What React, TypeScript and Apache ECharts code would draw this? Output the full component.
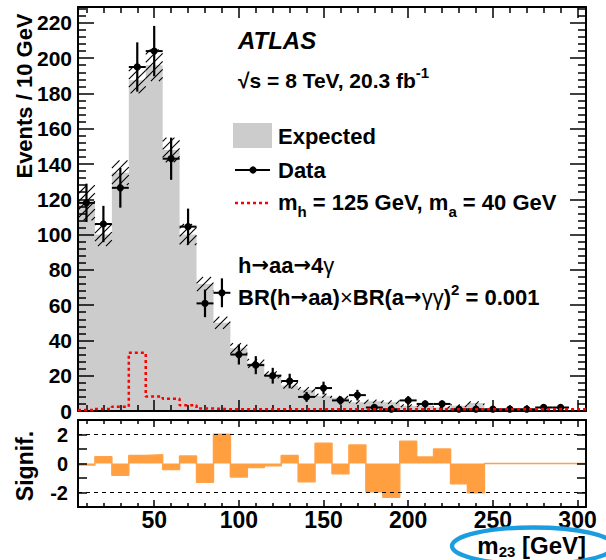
import React, { useEffect, useRef } from 'react';
import * as echarts from 'echarts';

// ---------- data (bin centres, 10 GeV bins) ----------
const binCenters = [10, 20, 30, 40, 50, 60, 70, 80, 90, 100, 110, 120, 130, 140, 150, 160, 170, 180, 190, 200, 210, 220, 230, 240, 250, 260, 270, 280, 290, 300];
const expected = [118, 100, 135, 187.5, 196, 148, 100, 72, 50, 35.5, 27, 20.5, 14.5, 12, 8.7, 7.5, 5, 5.5, 5, 3, 3, 2, 3, 4.5, 0, 0, 0, 0, 0, 0];
const expectedUnc = [10, 6.5, 7, 7.5, 9, 7, 6, 4, 3.5, 3, 2.5, 2, 1.8, 1.5, 1.2, 1, 1, 1, 1, 0.8, 0.8, 0.7, 0.8, 1, 0, 0, 0, 0, 0, 0];
const observed = [118, 106, 126.5, 195, 204, 143, 104.5, 61, 67, 32, 26, 20, 17, 8, 13, 6, 9, 2, 1, 6, 4, 4, 1, 1, 1, 1, 1, 2, 2];
const signal = [0.6, 1.2, 2.4, 33, 8.2, 7, 3.2, 1.4, 1, 1, 1, 1, 1, 1, 1, 1, 1, 1, 1, 1, 1, 1, 1, 1, 1, 1, 1, 1, 1, 1];
const significance = [-0.1, 0.47, -0.81, 0.56, 0.6, -0.42, 0.51, -1.3, 2.02, -0.93, -0.28, -0.16, 0.56, -1.26, 1.4, -0.7, 1.28, -1.95, -2.33, 1.53, 0.44, 1.0, -1.4, -2.02, 0, 0, 0, 0, 0, 0];

const xTickLabels = [50, 100, 150, 200, 250, 300];
const yTickLabels = [0, 20, 40, 60, 80, 100, 120, 140, 160, 180, 200, 220];
const sigTickLabels = [-2, 0, 2];

const HALF = 5;
const FONT = '"Liberation Sans", Arial, Helvetica, sans-serif';
const ARROW_FONT = '"DejaVu Sans", "Liberation Sans", sans-serif';

const xMinor: number[] = [];
for (let v = 10; v <= 300; v += 10) if (v % 50 !== 0) xMinor.push(v);
const yMinor: number[] = [];
for (let v = 4; v <= 228; v += 4) if (v % 20 !== 0) yMinor.push(v);

function stepData(vals: number[]) {
  const d = binCenters.map((c, i) => [c - HALF, vals[i]]);
  d.push([binCenters[binCenters.length - 1] + HALF, vals[vals.length - 1]]);
  return d;
}

const lineStyle = { color: '#000', width: 2 };
function xAx(grid: number, pos: string, ticks: number[], len: number, withLine: boolean, labels?: number[]) {
  return {
    type: 'value', gridIndex: grid, position: pos, min: 5, max: 305, z: 5,
    axisLine: { show: withLine, onZero: false, lineStyle },
    axisTick: { show: true, inside: true, length: len, customValues: ticks, lineStyle: { color: '#000', width: 1.5 } },
    axisLabel: labels
      ? { show: true, customValues: labels, color: '#000', fontFamily: FONT, fontWeight: 'bold', fontSize: 23, margin: 1 }
      : { show: false },
    splitLine: { show: false },
  };
}
function yAx(grid: number, pos: string, min: number, max: number, ticks: number[], len: number, withLine: boolean, labels?: number[], labelSize = 22, margin = 6) {
  return {
    type: 'value', gridIndex: grid, position: pos, min, max, z: 5,
    axisLine: { show: withLine, onZero: false, lineStyle },
    axisTick: { show: true, inside: true, length: len, customValues: ticks, lineStyle: { color: '#000', width: 1.5 } },
    axisLabel: labels
      ? { show: true, customValues: labels, color: '#000', fontFamily: FONT, fontWeight: 'bold', fontSize: labelSize, margin }
      : { show: false },
    splitLine: { show: false },
  };
}

export default function App() {
  const ref = useRef<HTMLDivElement>(null);
  useEffect(() => {
    const chart = echarts.init(ref.current!, null, { renderer: 'svg' });
    const n = (s: number) => ({ fontSize: s, fontWeight: 'bold', fontFamily: FONT, fill: '#000' });
    const arr = (lh: number) => ({ fontSize: 21, fontWeight: 'bold', fontFamily: ARROW_FONT, fill: '#000', lineHeight: lh });

    const option: any = {
      animation: false,
      backgroundColor: '#fff',
      grid: [
        { left: 78, top: 7, width: 508, height: 404, outerBoundsMode: 'none' },
        { left: 78, top: 420, width: 508, height: 87, outerBoundsMode: 'none' },
      ],
      xAxis: [
        xAx(0, 'bottom', xTickLabels, 11, true),
        xAx(0, 'top', xTickLabels, 11, true),
        xAx(0, 'bottom', xMinor, 6, false),
        xAx(0, 'top', xMinor, 6, false),
        xAx(1, 'bottom', xTickLabels, 7, true, xTickLabels),
        xAx(1, 'top', xTickLabels, 7, true),
        xAx(1, 'bottom', xMinor, 4, false),
        xAx(1, 'top', xMinor, 4, false),
      ],
      yAxis: [
        yAx(0, 'left', 0, 229, yTickLabels, 16, true, yTickLabels, 21, 6),
        yAx(0, 'right', 0, 229, yTickLabels, 16, true),
        yAx(0, 'left', 0, 229, yMinor, 8, false),
        yAx(0, 'right', 0, 229, yMinor, 8, false),
        yAx(1, 'left', -3, 3, [-2, -1, 0, 1, 2], 9, true, sigTickLabels, 20, 10),
        yAx(1, 'right', -3, 3, [-2, -1, 0, 1, 2], 9, true),
      ],
      series: [
        {
          type: 'line', name: 'Expected', xAxisIndex: 0, yAxisIndex: 0, step: 'end', symbol: 'none', z: 1,
          data: stepData(expected),
          lineStyle: { width: 0 }, areaStyle: { color: '#cccccc', opacity: 1 }, silent: true,
        },
        {
          type: 'custom', name: 'Uncertainty', xAxisIndex: 0, yAxisIndex: 0, z: 2, silent: true,
          data: binCenters.map((c, i) => [c, expected[i] - expectedUnc[i], expected[i] + expectedUnc[i]]).filter((d, i) => expectedUnc[i] > 0),
          renderItem: (params: any, api: any) => {
            const c = api.value(0), lo = api.value(1), hi = api.value(2);
            const p0 = api.coord([c - HALF, hi]);
            const p1 = api.coord([c + HALF, lo]);
            const L = p0[0], T = p0[1], R = p1[0], B = p1[1];
            const sp = 8;
            const children: any[] = [];
            for (let k = Math.ceil((L + T) / sp) * sp; k <= R + B; k += sp) {
              const xa = Math.max(L, k - B), xb = Math.min(R, k - T);
              if (xb - xa > 0.5) children.push({ type: 'line', shape: { x1: xa, y1: k - xa, x2: xb, y2: k - xb }, style: { stroke: '#000', lineWidth: 1.1 } });
            }
            return { type: 'group', children };
          },
        },
        {
          type: 'line', name: 'Signal', xAxisIndex: 0, yAxisIndex: 0, step: 'end', symbol: 'none', z: 7, silent: true,
          data: stepData(signal),
          lineStyle: { color: '#ff0000', width: 2.5, type: [3, 3] },
        },
        {
          type: 'custom', name: 'Data', xAxisIndex: 0, yAxisIndex: 0, z: 6, silent: true,
          data: observed.map((v, i) => [binCenters[i], v, Math.sqrt(v)]),
          renderItem: (params: any, api: any) => {
            const c = api.value(0), v = api.value(1), e = api.value(2);
            const pc = api.coord([c, v]);
            const pl = api.coord([c - HALF, v]);
            const pr = api.coord([c + HALF, v]);
            const pt = api.coord([c, v + e]);
            const pb = api.coord([c, Math.max(0, v - e)]);
            return {
              type: 'group', children: [
                { type: 'line', shape: { x1: pl[0], y1: pc[1], x2: pr[0], y2: pc[1] }, style: { stroke: '#000', lineWidth: 2 } },
                { type: 'line', shape: { x1: pc[0], y1: pt[1], x2: pc[0], y2: pb[1] }, style: { stroke: '#000', lineWidth: 2.2 } },
                { type: 'circle', shape: { cx: pc[0], cy: pc[1], r: 3.6 }, style: { fill: '#000' } },
              ],
            };
          },
        },
        {
          type: 'line', name: 'guides', xAxisIndex: 4, yAxisIndex: 4, data: [], z: 1, silent: true,
          markLine: {
            silent: true, symbol: 'none', label: { show: false },
            lineStyle: { color: '#000', type: [4, 4], width: 1 },
            data: [{ yAxis: 2 }, { yAxis: -2 }],
          },
        },
        {
          type: 'line', name: 'Significance', xAxisIndex: 4, yAxisIndex: 4, step: 'end', symbol: 'none', z: 2, silent: true,
          data: stepData(significance),
          lineStyle: { color: '#ffa24a', width: 1.5 },
          areaStyle: { color: '#ff9f3f', opacity: 1 },
        },
      ],
      graphic: [
        { type: 'text', z: 100, x: 24, y: 96, rotation: Math.PI / 2, style: { text: 'Events / 10 GeV', ...n(22), align: 'center', verticalAlign: 'middle' } },
        { type: 'text', z: 100, x: 25, y: 466, rotation: Math.PI / 2, style: { text: 'Signif.', ...n(23), align: 'center', verticalAlign: 'middle' } },
        {
          type: 'text', z: 100, x: 586, y: 545,
          style: {
            text: '{a|m}{s|23}{a| [GeV]}', align: 'right', verticalAlign: 'middle',
            rich: { a: { ...n(24), lineHeight: 28 }, s: { ...n(15), lineHeight: 15, verticalAlign: 'bottom' } },
          },
        },
        { type: 'ellipse', z: 100, shape: { cx: 533, cy: 546, rx: 81, ry: 18.5 }, style: { fill: 'none', stroke: '#1c9de0', lineWidth: 4.3 } },
        { type: 'text', z: 100, x: 238, y: 40, style: { text: 'ATLAS', ...n(24), fontStyle: 'italic', verticalAlign: 'middle' } },
        {
          type: 'text', z: 100, x: 238, y: 80,
          style: {
            text: '{a|√s = 8 TeV, 20.3 fb}{p|-1}', verticalAlign: 'middle',
            rich: { a: { ...n(21), lineHeight: 30 }, p: { ...n(15), lineHeight: 15, verticalAlign: 'top' } },
          },
        },
        { type: 'rect', z: 100, shape: { x: 233, y: 123, width: 39, height: 25 }, style: { fill: '#cccccc' } },
        { type: 'text', z: 100, x: 278, y: 136, style: { text: 'Expected', ...n(22), verticalAlign: 'middle' } },
        { type: 'line', z: 100, shape: { x1: 235, y1: 170, x2: 270, y2: 170 }, style: { stroke: '#000', lineWidth: 2 } },
        { type: 'circle', z: 100, shape: { cx: 253, cy: 170, r: 3.6 }, style: { fill: '#000' } },
        { type: 'text', z: 100, x: 278, y: 170, style: { text: 'Data', ...n(22), verticalAlign: 'middle' } },
        { type: 'line', z: 100, shape: { x1: 235, y1: 203, x2: 270, y2: 203 }, style: { stroke: '#ff0000', lineWidth: 2.5, lineDash: [3, 3] } },
        {
          type: 'text', z: 100, x: 278, y: 202,
          style: {
            text: '{a|m}{s|h}{a| = 125 GeV, m}{s|a}{a| = 40 GeV}', verticalAlign: 'middle',
            rich: { a: { ...n(22), lineHeight: 34 }, s: { ...n(15), lineHeight: 15, verticalAlign: 'bottom' } },
          },
        },
        {
          type: 'text', z: 100, x: 238, y: 265,
          style: {
            text: '{a|h}{r|→}{a|aa}{r|→}{a|4}{g|γ}', verticalAlign: 'middle',
            rich: { a: { ...n(22), lineHeight: 28 }, r: arr(28), g: { ...n(22), fontWeight: 'normal', lineHeight: 28 } },
          },
        },
        {
          type: 'text', z: 100, x: 238, y: 297,
          style: {
            text: '{a|BR(h}{r|→}{a|aa)}{g|×}{a|BR(a}{r|→}{g|γγ}{a|)}{p|2}{a| = 0.001}', verticalAlign: 'middle',
            rich: {
              a: { ...n(22), lineHeight: 30 },
              r: arr(30),
              g: { ...n(22), fontWeight: 'normal', lineHeight: 30 },
              p: { ...n(15), lineHeight: 15, verticalAlign: 'top' },
            },
          },
        },
      ],
    };
    chart.setOption(option);
    return () => chart.dispose();
  }, []);
  return <div ref={ref} style={{ position: 'absolute', left: 0, top: 0, width: 606, height: 560, background: '#fff' }} />;
}
